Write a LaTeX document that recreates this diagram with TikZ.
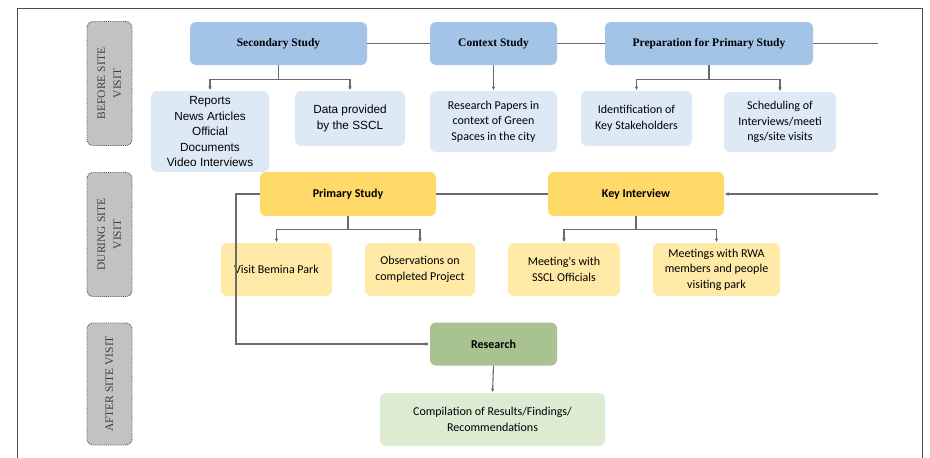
\documentclass[tikz,border=0pt]{standalone}
\usepackage{fontspec}
\setmainfont{Liberation Serif}
\newfontfamily\calfont{Carlito}
\newfontfamily\arifont{Liberation Sans}
\usetikzlibrary{arrows.meta}
\definecolor{hdrblue}{HTML}{A3C4E6}
\definecolor{lblue}{HTML}{DDEAF6}
\definecolor{hdryel}{HTML}{FFD96A}
\definecolor{lyel}{HTML}{FFE9A6}
\definecolor{hdrgrn}{HTML}{A8C391}
\definecolor{lgrn}{HTML}{DCEBD2}
\definecolor{phgray}{HTML}{C2C2C2}
\definecolor{linegray}{HTML}{6A6A6A}
\begin{document}
\begin{tikzpicture}[x=1pt,y=-1pt,
  box/.style={rounded corners=6pt, inner sep=0pt, align=center, text=black},
  bhdr/.style={box, fill=hdrblue, font=\fontsize{11.5}{14}\selectfont\bfseries},
  bchild/.style={box, fill=lblue, font=\calfont\fontsize{12}{15.5}\selectfont},
  yhdr/.style={box, fill=hdryel, font=\calfont\fontsize{12}{15}\selectfont\bfseries},
  ychild/.style={box, fill=lyel, font=\calfont\fontsize{12}{15.5}\selectfont},
  ghdr/.style={box, fill=hdrgrn, font=\calfont\fontsize{12}{15}\selectfont\bfseries},
  gchild/.style={box, fill=lgrn, font=\calfont\fontsize{12}{15.5}\selectfont},
  phase/.style={rounded corners=6pt, fill=phgray, draw=black!65, densely dotted, line width=0.9pt, minimum width=45pt, minimum height=124pt, inner sep=0pt},
  phtxt/.style={rotate=90, align=center, text=black!75, font=\fontsize{11.5}{16}\selectfont, inner sep=0pt},
  conn/.style={draw=linegray, line width=1.1pt},
  arr/.style={conn, -{Stealth[length=3.5pt,width=3.5pt]}, shorten >=1pt}
]
\useasboundingbox (0,0) rectangle (930,458);
\fill[white] (0,0) rectangle (930,458);
% frame
\draw[line width=1pt, black!70] (17,458) -- (17,8) -- (922,8) -- (922,458);

% phase boxes
\node[phase] (ph1) at (109.5,83.5) {};
\node[phtxt] (ph1t) at (ph1) {BEFORE SITE\\VISIT};
\node[phase] (ph2) at (109.5,234.5) {};
\node[phtxt] (ph2t) at (ph2) {DURING SITE\\VISIT};
\node[phase, minimum height=122pt] (ph3) at (109.5,384) {};
\node[phtxt] (ph3t) at (ph3) {AFTER SITE VISIT};

% before site visit
\node[bhdr, minimum width=177pt, minimum height=43pt] (sec) at (278.5,43.5) {Secondary Study};
\node[bhdr, minimum width=127pt, minimum height=43pt] (con) at (493.5,43.5) {Context Study};
\node[bhdr, minimum width=208pt, minimum height=43pt] (pre) at (709,43.5) {Preparation for Primary Study};
\coordinate (preend) at (878,43.5);

\node[bchild, font=\arifont\fontsize{11.8}{15.5}\selectfont, minimum width=118pt, minimum height=81pt] (rep) at (210,131.5) {Reports\\News Articles\\Official\\Documents\\Video Interviews};
\node[bchild, font=\arifont\fontsize{11.8}{15.5}\selectfont, minimum width=110pt, minimum height=55pt] (dat) at (350,118.5) {Data provided\\by the SSCL};
\node[bchild, minimum width=127pt, minimum height=61pt] (rpp) at (493.5,121.5) {Research Papers in\\context of Green\\Spaces in the city};
\node[bchild, minimum width=111pt, minimum height=55pt] (ide) at (636.5,118.5) {Identification of\\Key Stakeholders};
\node[bchild, minimum width=112pt, minimum height=60pt] (sch) at (780,122) {Scheduling of\\Interviews/meeti\\ngs/site visits};

\draw[conn] (sec) -- (con);
\draw[conn] (con) -- (pre);
\draw[conn] (pre) -- (preend);
\draw[arr] (sec.south) -- ++(0,14) -| (rep.north);
\draw[arr] (sec.south) -- ++(0,14) -| (dat.north);
\draw[arr] (con.south) -- (rpp.north);
\draw[arr] (pre.south) -- ++(0,14) -| (ide.north);
\draw[arr] (pre.south) -- ++(0,14) -| (sch.north);

% during site visit
\node[yhdr, minimum width=176pt, minimum height=44pt] (pri) at (348,194) {Primary Study};
\node[yhdr, minimum width=176pt, minimum height=44pt] (key) at (636,194) {Key Interview};
\coordinate (keyin) at (878,194);
\coordinate (loop) at (236,194);

\node[ychild, minimum width=111pt, minimum height=53pt] (vis) at (276.5,269.5) {Visit Bemina Park};
\node[ychild, minimum width=110pt, minimum height=53pt] (obs) at (420,269.5) {Observations on\\completed Project};
\node[ychild, minimum width=112pt, minimum height=53pt] (mss) at (564,269.5) {Meeting's with\\SSCL Officials};
\node[ychild, minimum width=127pt, minimum height=53pt] (mrw) at (716.5,269.5) {Meetings with RWA\\members and people\\visiting park};

\draw[conn] (pri) -- (key);
\draw[arr] (keyin) -- (key.east);
\draw[arr] (pri.south) -- ++(0,13) -| (vis.north);
\draw[arr] (pri.south) -- ++(0,13) -| (obs.north);
\draw[arr] (key.south) -- ++(0,13) -| (mss.north);
\draw[arr] (key.south) -- ++(0,13) -| (mrw.north);

% after site visit
\node[ghdr, minimum width=127pt, minimum height=43pt] (res) at (493.5,344) {Research};
\node[gchild, minimum width=225pt, minimum height=53pt] (cmp) at (492.5,419.5) {Compilation of Results/Findings/\\Recommendations};

\draw[arr] (pri.west) -- (loop) |- (res.west);
\draw[arr] (res.south) -- (cmp.north);
\end{tikzpicture}
\end{document}
